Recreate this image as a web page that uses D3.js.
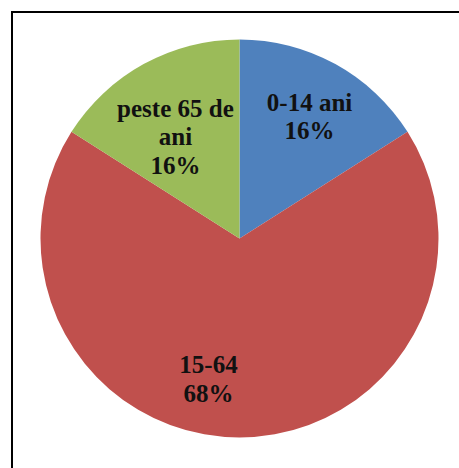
<!DOCTYPE html>
<html>
<head>
<meta charset="utf-8">
<script src="https://cdn.jsdelivr.net/npm/d3@7"></script>
<style>
  body { margin: 0; background: #fff; }
  svg { display: block; }
</style>
</head>
<body>
<div id="chart"></div>
<script>
// age groups and their share of the population
const categories = ["0-14 ani", "15-64", "peste 65 de ani"];
const values = [16, 68, 16];
const colors = ["#4F81BD", "#C0504D", "#9BBB59"];
// how the category names break into lines inside the slices
const labelLines = [["0-14 ani"], ["15-64"], ["peste 65 de", "ani"]];

const width = 459, height = 468;
const cx = 239.5, cy = 238.5, radius = 199;

// small nudges so labels sit where the original best-fit put them
const labelNudge = [[2, 2], [-31, -1], [4, 22]];
const fontSize = 25, lineHeight = 28.5, capHeight = 17;

const svg = d3.select("#chart")
  .append("svg")
    .attr("width", width)
    .attr("height", height);

// outer frame, cut off at the right and bottom like the original
svg.append("rect")
  .attr("x", 12)
  .attr("y", 12)
  .attr("width", width + 20)
  .attr("height", height + 20)
  .attr("fill", "none")
  .attr("stroke", "#000")
  .attr("stroke-width", 2);

const g = svg.append("g")
  .attr("transform", "translate(" + cx + "," + cy + ")");

const pie = d3.pie().sort(null).value(function(d) { return d; });
const arcs = pie(values);
const total = d3.sum(values);

const arc = d3.arc().innerRadius(0).outerRadius(radius);
const labelArc = d3.arc().innerRadius(radius * 0.71).outerRadius(radius * 0.71);

g.selectAll("path.slice")
  .data(arcs)
  .enter()
  .append("path")
    .attr("class", "slice")
    .attr("d", arc)
    .attr("fill", function(d, i) { return colors[i]; });

const fmt = d3.format(".0%");

const labels = g.selectAll("text.label")
  .data(arcs)
  .enter()
  .append("text")
    .attr("class", "label")
    .attr("text-anchor", "middle")
    .style("font-family", "'Liberation Serif', 'Times New Roman', serif")
    .style("font-weight", "bold")
    .style("font-size", fontSize + "px")
    .style("fill", "#111");

labels.each(function(d, i) {
  const c = labelArc.centroid(d);
  const x = c[0] + labelNudge[i][0];
  const y = c[1] + labelNudge[i][1];
  const lines = labelLines[i].concat([fmt(d.value / total)]);
  const first = y - (lines.length - 1) * lineHeight / 2 + capHeight / 2;
  const t = d3.select(this);
  lines.forEach(function(line, k) {
    t.append("tspan")
      .attr("x", x)
      .attr("y", first + k * lineHeight)
      .text(line);
  });
});
</script>
</body>
</html>
